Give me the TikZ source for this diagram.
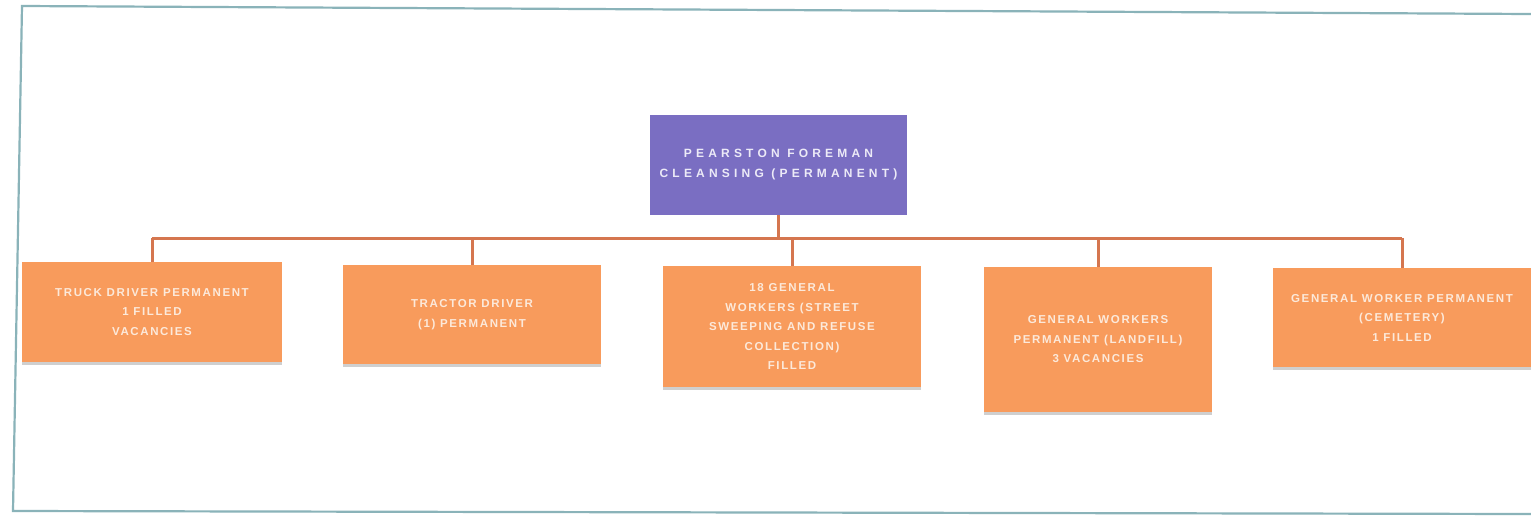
\documentclass[tikz,border=0pt]{standalone}
\usepackage{fontspec}
\setmainfont{Liberation Sans}
\newfontfamily\headfont[LetterSpace=35]{Liberation Sans}
\newfontfamily\unitfont[LetterSpace=14]{Liberation Sans}
\definecolor{framecol}{HTML}{8AB3B9}
\definecolor{headfill}{HTML}{7A6EC2}
\definecolor{unitfill}{HTML}{F89B5C}
\definecolor{linkcol}{HTML}{D5764F}
\definecolor{headtext}{HTML}{ECEAF7}
\definecolor{unittext}{HTML}{FCE9DA}
\definecolor{shadowcol}{HTML}{CFCFCF}
\begin{document}
\begin{tikzpicture}[x=1pt,y=-1pt,
  headbox/.style={fill=headfill, text=headtext, align=center, inner sep=0pt,
    minimum width=257pt, minimum height=100pt,
    font=\headfont\bfseries\fontsize{12}{20}\selectfont},
  unitbox/.style={fill=unitfill, text=unittext, align=center, inner sep=0pt,
    font=\unitfont\bfseries\fontsize{11.5}{19.5}\selectfont},
  link/.style={draw=linkcol, line width=3pt}]
\useasboundingbox (0,0) rectangle (1531,515);
\fill[white] (0,0) rectangle (1531,515);

% outer frame
\draw[framecol, line width=2.2pt] (1531,14) -- (22,6) -- (13,511) -- (1531,514);

% head of section
\node[headbox] (head) at (778.5,165) {PEARSTON FOREMAN\\CLEANSING (PERMANENT)};

% shadows under the unit boxes
\foreach \cx/\cy/\w/\h in {152/312/260/100, 472/314.5/258/99, 792/326.5/258/121,
                           1098/339.5/228/145, 1402/317.5/258/99}
  \fill[shadowcol] (\cx-\w/2,\cy+\h/2) rectangle (\cx+\w/2,\cy+\h/2+3);

% units
\node[unitbox, minimum width=260pt, minimum height=100pt] (u1) at (152,312)
  {TRUCK DRIVER PERMANENT\\1 FILLED\\VACANCIES};
\node[unitbox, minimum width=258pt, minimum height=99pt] (u2) at (472,314.5)
  {TRACTOR DRIVER\\(1) PERMANENT};
\node[unitbox, minimum width=258pt, minimum height=121pt] (u3) at (792,326.5)
  {18 GENERAL\\WORKERS (STREET\\SWEEPING AND REFUSE\\COLLECTION)\\FILLED};
\node[unitbox, minimum width=228pt, minimum height=145pt] (u4) at (1098,339.5)
  {GENERAL WORKERS\\PERMANENT (LANDFILL)\\3 VACANCIES};
\node[unitbox, minimum width=258pt, minimum height=99pt] (u5) at (1402,317.5)
  {GENERAL WORKER PERMANENT\\(CEMETERY)\\1 FILLED};

% connectors
\coordinate (bus) at (0,238);
\draw[link] (u1.north |- bus) -- (u5.north |- bus);
\draw[link] (head.south) -- (head.south |- bus);
\foreach \u in {u1,u2,u3,u4,u5}
  \draw[link] (\u.north |- bus) -- (\u.north);
\end{tikzpicture}
\end{document}
